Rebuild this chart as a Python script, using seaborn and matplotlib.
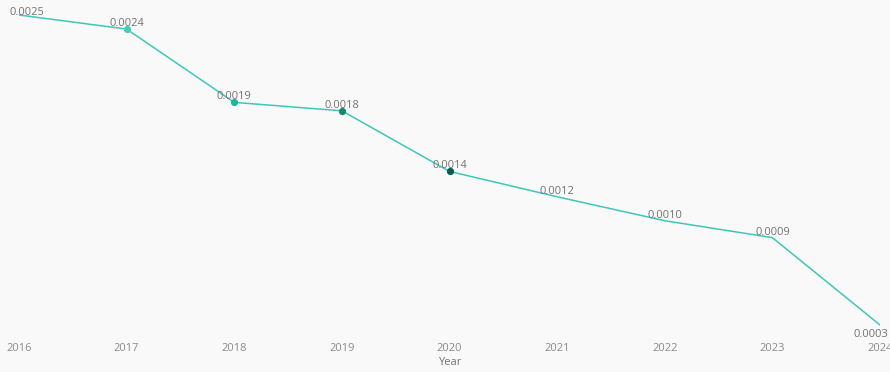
import matplotlib
matplotlib.use("Agg")
import matplotlib.pyplot as plt
import seaborn as sns
import pandas as pd

years = [2016, 2017, 2018, 2019, 2020, 2021, 2022, 2023, 2024]
values = [0.00250, 0.00240, 0.00188, 0.00182, 0.00139, 0.00121, 0.00104, 0.00092, 0.00030]
labels = ["0.0025", "0.0024", "0.0019", "0.0018", "0.0014", "0.0012", "0.0010", "0.0009", "0.0003"]
marked_years = [2017, 2018, 2019, 2020]
marker_colors = ["#4fc9bb", "#22b39f", "#118a70", "#0b5e4e"]

sns.set_theme(style="white")
plt.rcParams["font.family"] = ["Open Sans", "DejaVu Sans"]

bg = "#f9f9f9"
fig = plt.figure(figsize=(8.9, 3.72), dpi=100, facecolor=bg)
ax = fig.add_axes([19/890, 1 - 335/372, 861/890, 330/372])
ax.set_facecolor(bg)

df = pd.DataFrame({"Year": years, "Value": values})
sns.lineplot(data=df, x="Year", y="Value", ax=ax, color="#3cc8b8", linewidth=1.1)

for yr, col in zip(marked_years, marker_colors):
    v = values[years.index(yr)]
    ax.plot([yr], [v], marker="o", markersize=4.2, color=col, linestyle="none", zorder=3)

txt_color = "#737373"
for i, (yr, v, lab) in enumerate(zip(years, values, labels)):
    if i == 0:
        ax.annotate(lab, (yr, v), xytext=(-7, -2), textcoords="offset points",
                    ha="left", va="bottom", fontsize=8, color=txt_color)
    elif i == len(years) - 1:
        ax.annotate(lab, (yr, v), xytext=(6, -3), textcoords="offset points",
                    ha="right", va="top", fontsize=8, color=txt_color)
    else:
        ax.annotate(lab, (yr, v), xytext=(0, 0), textcoords="offset points",
                    ha="center", va="bottom", fontsize=8, color=txt_color)

ax.set_xlim(2016, 2024)
ax.set_ylim(0.000229, 0.002571)
ax.set_xticks(years)
ax.set_xticklabels([str(y) for y in years])
ax.set_yticks([])
ax.set_ylabel("")
ax.set_xlabel("Year", fontsize=8, color=txt_color, labelpad=2)
ax.tick_params(axis="x", length=0, pad=6, labelsize=8, labelcolor="#8a8a8a")
for s in ax.spines.values():
    s.set_visible(False)

fig.savefig("out.png", dpi=100, facecolor=bg)
